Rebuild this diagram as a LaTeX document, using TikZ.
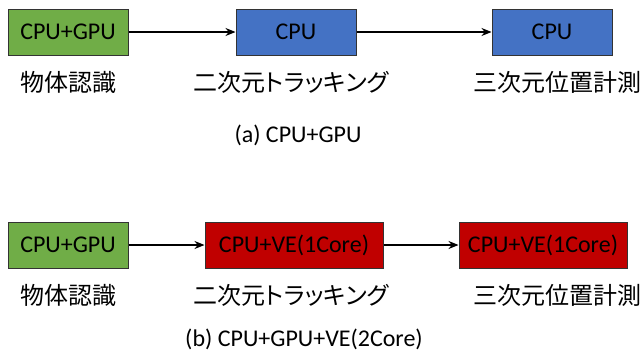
\documentclass[tikz,border=0pt]{standalone}
\usepackage{fontspec}
\setmainfont{Carlito}
\newfontfamily\jpfont[RawFeature=+palt]{Noto Sans CJK JP}
\usetikzlibrary{positioning}
\usetikzlibrary{arrows.meta}

\definecolor{gpugreen}{HTML}{70AD47}
\definecolor{cpublue}{HTML}{4472C4}
\definecolor{vered}{HTML}{C00000}

\begin{document}
\begin{tikzpicture}[x=0.5pt,y=-0.5pt]

\tikzset{unit/.style={rectangle,draw=black!80,line width=0.5pt,minimum height=23pt,inner sep=0pt,font=\fontsize{12}{14}\selectfont},
  gpu/.style={unit,fill=gpugreen,minimum width=60pt},
  cpu/.style={unit,fill=cpublue,minimum width=60pt},
  ve/.style={unit,fill=vered},
  task/.style={font=\jpfont\fontsize{12}{14}\selectfont,inner sep=0pt},
  caption/.style={font=\fontsize{12}{14}\selectfont,inner sep=0pt},
  flow/.style={-{Stealth[length=5pt,width=4pt]},line width=0.6pt}}

\useasboundingbox (0,0) rectangle (642,354);

% (a) CPU+GPU
\node[gpu] (detA) at (68,32) {CPU+GPU};
\node[cpu] (trackA) at (296,32) {CPU};
\node[cpu] (posA) at (552,32) {CPU};
\node[task] (detAlabel) at (68,82) {物体認識};
\node[task] (trackAlabel) at (291,82) {二次元トラッキング};
\node[task] (posAlabel) at (557,82) {三次元位置計測};
\node[caption] (capA) at (298,135) {(a) CPU+GPU};

\draw[flow] (detA) -- (trackA);
\draw[flow] (trackA) -- (posA);

% (b) CPU+GPU+VE(2Core)
\node[gpu] (detB) at (68,245) {CPU+GPU};
\node[ve,minimum width=89pt] (trackB) at (294,245) {CPU+VE(1Core)};
\node[ve,minimum width=84pt] (posB) at (543,245) {CPU+VE(1Core)};
\node[task] (detBlabel) at (68,295) {物体認識};
\node[task] (trackBlabel) at (291,295) {二次元トラッキング};
\node[task] (posBlabel) at (557,295) {三次元位置計測};
\node[caption] (capB) at (304,339) {(b) CPU+GPU+VE(2Core)};

\draw[flow] (detB) -- (trackB);
\draw[flow] (trackB) -- (posB);

\end{tikzpicture}
\end{document}
